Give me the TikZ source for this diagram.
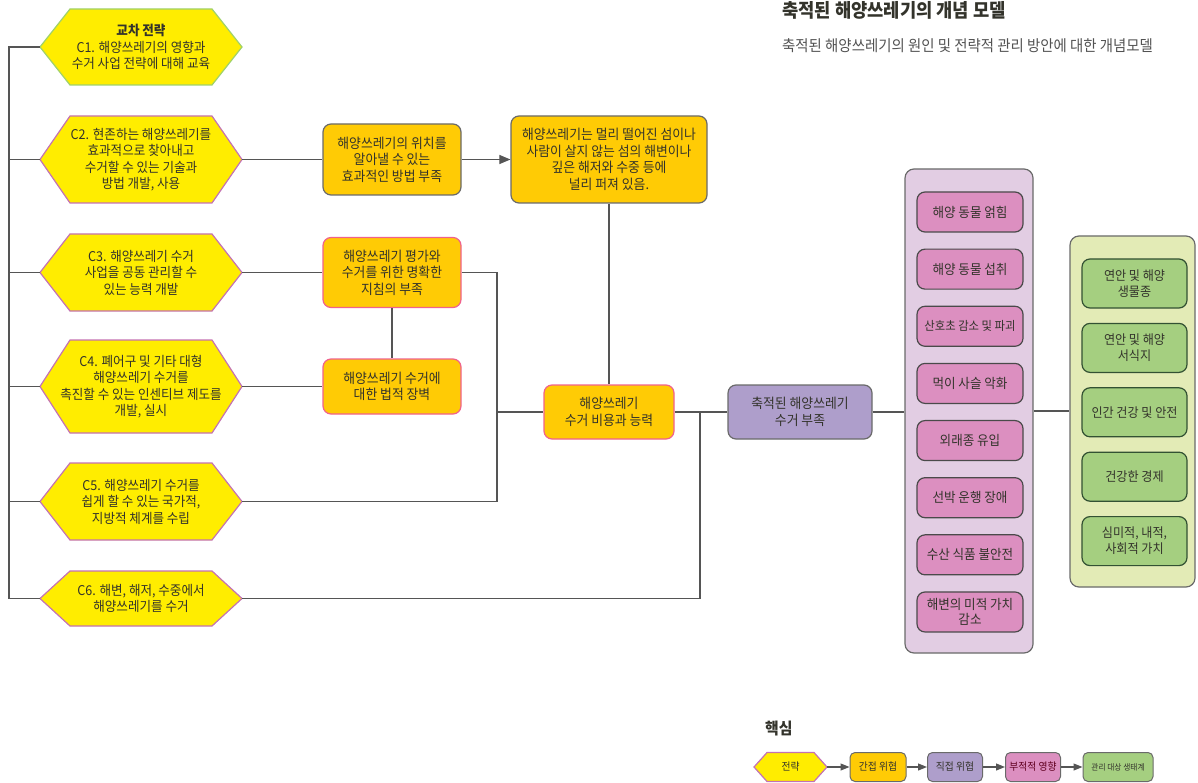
\documentclass[tikz,border=0pt]{standalone}
\usepackage{fontspec}
\setmainfont{Noto Sans CJK KR}[FakeStretch=0.93]
\usetikzlibrary{calc,arrows.meta}

\definecolor{hexyellow}{HTML}{FFED00}
\definecolor{hexgreen}{HTML}{9FD16A}
\definecolor{hexpink}{HTML}{C472B2}
\definecolor{gold}{HTML}{FFCB05}
\definecolor{goldpink}{HTML}{F0628C}
\definecolor{lilac}{HTML}{AE9ECB}
\definecolor{lilacbg}{HTML}{E2CDE3}
\definecolor{rose}{HTML}{DC8FC0}
\definecolor{sage}{HTML}{A5CF80}
\definecolor{sagebg}{HTML}{E3EBB6}
\definecolor{ink}{HTML}{33332B}
\definecolor{wire}{HTML}{555555}
\definecolor{rim}{HTML}{6A6A6A}

\tikzset{
	link/.style={draw=wire, line width=1.1pt},
	linkarrow/.style={link, -{Triangle[length=11pt,width=9pt]}},
	hexfill/.style={fill=hexyellow, line width=1.2pt},
	hextext/.style={align=center, text=ink, inner sep=0pt, font=\fontsize{13.5}{16.5}\selectfont},
	goldbox/.style={draw=#1, fill=gold, line width=1.2pt, rounded corners=8pt, align=center,
		text=ink, inner sep=0pt, font=\fontsize{13.8}{16.5}\selectfont},
	goldbox/.default=rim,
	lilacbox/.style={goldbox, fill=lilac},
	panel/.style={draw=rim, line width=1.2pt, rounded corners=9pt},
	harmbox/.style={draw=rim!70!black, fill=rose, line width=1.2pt, rounded corners=8pt, align=center,
		text=ink, inner sep=0pt, minimum width=106pt, minimum height=40pt, font=\fontsize{13.5}{15.5}\selectfont},
	valuebox/.style={harmbox, draw=rim!80!green!60!black, fill=sage, minimum width=105pt, minimum height=49pt,
		font=\fontsize{13}{16}\selectfont},
	keybox/.style={draw=rim, line width=1pt, rounded corners=5pt, align=center, text=ink, inner sep=0pt,
		minimum height=29pt, font=\fontsize{10.5}{12}\selectfont},
	keyarrow/.style={link, -{Triangle[length=9pt,width=7pt]}}
}

% hexagon: [border](name)(centre)(half width:tip:half height){text}
\def\hexnode[#1](#2)(#3)(#4:#5:#6)#7{%
	\filldraw[hexfill,draw=#1] ($(#3)+(-#4,0)$) -- ($(#3)+(-#4+#5,-#6)$) -- ($(#3)+(#4-#5,-#6)$)
		-- ($(#3)+(#4,0)$) -- ($(#3)+(#4-#5,#6)$) -- ($(#3)+(-#4+#5,#6)$) -- cycle;
	\node[hextext, minimum width={2*#4pt}] (#2) at (#3) {#7};
}

\begin{document}
\begin{tikzpicture}[x=1pt,y=-1pt]
			%%%%% START %%%%%
			\useasboundingbox (0,0) rectangle (1198,783);
			
			\node[anchor=base west, inner sep=0pt, text=ink, font=\fontsize{19}{22}\selectfont\bfseries] (title) at (782,17.5) {축적된 해양쓰레기의 개념 모델};
			\node[anchor=base west, inner sep=0pt, text=black!68, font=\fontsize{15.5}{18}\selectfont] (subtitle) at (782,52) {축적된 해양쓰레기의 원인 및 전략적 관리 방안에 대한 개념모델};
			
			% strategies
			\hexnode[hexgreen](C1)(141,47)(101:30:38){{\bfseries 교차 전략}\\C1. 해양쓰레기의 영향과\\수거 사업 전략에 대해 교육}
			\hexnode[hexpink](C2)(141,159.5)(101:30:43.5){C2. 현존하는 해양쓰레기를\\효과적으로 찾아내고\\수거할 수 있는 기술과\\방법 개발, 사용}
			\hexnode[hexpink](C3)(141,272.5)(101:30:38.5){C3. 해양쓰레기 수거\\사업을 공동 관리할 수\\있는 능력 개발}
			\hexnode[hexpink](C4)(141,386.5)(101:30:46.5){C4. 폐어구 및 기타 대형\\해양쓰레기 수거를\\촉진할 수 있는 인센티브 제도를\\개발, 실시}
			\hexnode[hexpink](C5)(141,501.5)(101:30:38.5){C5. 해양쓰레기 수거를\\쉽게 할 수 있는 국가적,\\지방적 체계를 수립}
			\hexnode[hexpink](C6)(141,598.5)(101:30:27.5){C6. 해변, 해저, 수중에서\\해양쓰레기를 수거}
			
			% indirect threats
			\node[goldbox, minimum width=138pt, minimum height=71pt] (find) at (392,159.5) {해양쓰레기의 위치를\\알아낼 수 있는\\효과적인 방법 부족};
			\node[goldbox, minimum width=196pt, minimum height=87pt] (spread) at (609,159.5) {해양쓰레기는 멀리 떨어진 섬이나\\사람이 살지 않는 섬의 해변이나\\깊은 해저와 수중 등에\\널리 퍼져 있음.};
			\node[goldbox=goldpink, minimum width=138pt, minimum height=70pt] (guide) at (392,272.5) {해양쓰레기 평가와\\수거를 위한 명확한\\지침의 부족};
			\node[goldbox=goldpink, minimum width=138pt, minimum height=55pt] (legal) at (392,386.5) {해양쓰레기 수거에\\대한 법적 장벽};
			\node[goldbox=goldpink, minimum width=130pt, minimum height=54pt] (cost) at (609,412) {해양쓰레기\\수거 비용과 능력};
			
			% direct threat
			\node[lilacbox, minimum width=144pt, minimum height=54pt] (lack) at (800,412) {축적된 해양쓰레기\\수거 부족};
			
			% impacts
			\node[panel, fill=lilacbg, minimum width=128pt, minimum height=484pt] (impacts) at (969,411) {};
			\foreach \t [count=\i] in {해양 동물 얽힘, 해양 동물 섭취, {\fontsize{12.2}{15}\selectfont 산호초 감소 및 파괴}, 먹이 사슬 악화, 외래종 유입, 선박 운행 장애, 수산 식품 불안전, {해변의 미적 가치\\감소}}
				\node[harmbox] (h\i) at (970,{212+57.14*(\i-1)}) {\t};
			
			% targets
			\node[panel, fill=sagebg, minimum width=125pt, minimum height=351pt] (targets) at (1132.5,411.5) {};
			\foreach \t [count=\i] in {{연안 및 해양\\생물종}, {연안 및 해양\\서식지}, 인간 건강 및 안전, 건강한 경제, {심미적, 내적,\\사회적 가치}}
				\node[valuebox] (v\i) at (1134.5,{283.5+64.4*(\i-1)}) {\t};
			
			% links
			\coordinate (bus) at (9,47);
			\coordinate (merge) at (497,412);
			\coordinate (tie) at (700,412);
			\draw[link] (C1.west) -- (bus) |- (C6.west);
			\foreach \c in {C2,C3,C4,C5}
				\draw[link] (\c.west) -- (\c.west -| bus);
			\draw[link] (C2.east) -- (find.west);
			\draw[linkarrow] (find.east) -- (spread.west);
			\draw[link] (C3.east) -- (guide.west);
			\draw[link] (C4.east) -- (legal.west);
			\draw[link] (guide.south) -- (legal.north);
			\draw[link] (guide.east) -| (merge) |- (C5.east);
			\draw[link] (merge) -- (cost.west);
			\draw[link] (spread.south) -- (cost.north);
			\draw[link] (cost.east) -- (lack.west);
			\draw[link] (C6.east) -| (tie);
			\draw[link] (lack.east) -- (lack.east -| impacts.west);
			\draw[link] (impacts.east) -- (impacts.east -| targets.west);
			
			% key
			\node[anchor=base west, inner sep=0pt, text=ink, font=\fontsize{16}{18}\selectfont\bfseries] (keytitle) at (765,734) {핵심};
			\hexnode[hexpink](k0)(790.5,767)(36.5:13:14.5){\fontsize{10.5}{12}\selectfont 전략}
			\node[keybox, fill=gold, minimum width=56pt] (k1) at (878,767) {간접 위협};
			\node[keybox, fill=lilac, minimum width=55pt] (k2) at (955,767) {직접 위협};
			\node[keybox, fill=rose, minimum width=55pt, text=black!50!purple] (k3) at (1033,767) {부적적 영향};
			\node[keybox, fill=sage, minimum width=70pt, font=\fontsize{8.3}{10}\selectfont] (k4) at (1118,767) {관리 대상 생태계};
			\draw[keyarrow] (k0.east) -- (k1.west);
			\draw[keyarrow] (k1.east) -- (k2.west);
			\draw[keyarrow] (k2.east) -- (k3.west);
			\draw[keyarrow] (k3.east) -- (k4.west);
			
			%%%%% END %%%%%
\end{tikzpicture}
\end{document}
